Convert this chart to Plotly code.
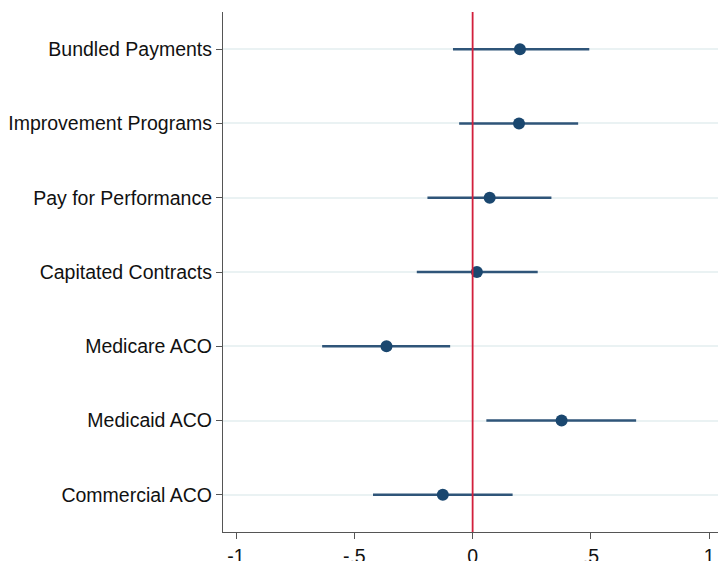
import plotly.graph_objects as go

categories = ["Bundled Payments", "Improvement Programs", "Pay for Performance",
              "Capitated Contracts", "Medicare ACO", "Medicaid ACO", "Commercial ACO"]
estimates = [0.200, 0.196, 0.072, 0.018, -0.364, 0.376, -0.126]
ci_low = [-0.083, -0.057, -0.191, -0.236, -0.636, 0.058, -0.421]
ci_high = [0.493, 0.446, 0.333, 0.275, -0.095, 0.691, 0.169]
x_tickvals = [-1, -0.5, 0, 0.5, 1]
x_ticktext = ["-1", "-.5", "0", ".5", "1"]

navy = "#1a476f"
err_plus = [h - e for h, e in zip(ci_high, estimates)]
err_minus = [e - l for e, l in zip(estimates, ci_low)]

fig = go.Figure()
fig.add_trace(go.Scatter(
    x=estimates, y=categories, mode="markers",
    marker=dict(color=navy, size=12),
    error_x=dict(type="data", symmetric=False, array=err_plus, arrayminus=err_minus,
                 color="#2f5579", thickness=2.5, width=0),
    showlegend=False,
))

fig.add_shape(type="line", x0=0, x1=0, y0=0, y1=1, xref="x", yref="paper",
              line=dict(color="#d21f3c", width=1.8), layer="above")

font = dict(family="Liberation Sans, Arial, sans-serif", size=19.5, color="#111111")
fig.update_layout(
    width=718, height=561,
    margin=dict(l=223, r=0, t=12, b=29),
    plot_bgcolor="white", paper_bgcolor="white",
    font=font,
)
fig.update_xaxes(
    range=[-1.055, 1.037], tickvals=x_tickvals, ticktext=x_ticktext,
    showgrid=False, zeroline=False, showline=True, linecolor="#555555", linewidth=1.2,
    ticks="outside", ticklen=6, tickcolor="#555555", tickfont=font, automargin=False,
)
fig.update_yaxes(
    type="category", categoryorder="array", categoryarray=categories[::-1],
    range=[-0.5, 6.5],
    showgrid=True, gridcolor="#eaf2f3", gridwidth=1.5,
    zeroline=False, showline=True, linecolor="#555555", linewidth=1.2,
    ticks="outside", ticklen=6, tickcolor="#555555", tickfont=font, automargin=False,
)

fig.write_html("out.html", config={"displayModeBar": False},
               post_script="document.body.style.margin='0';document.body.style.overflow='hidden';")
